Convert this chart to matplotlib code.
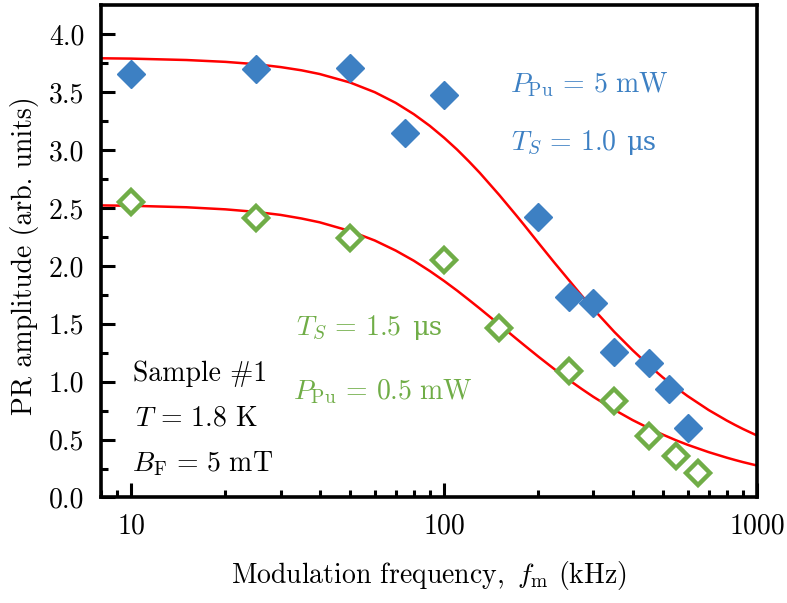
import numpy as np
import matplotlib
matplotlib.use('Agg')
import matplotlib.pyplot as plt
from matplotlib.ticker import FixedLocator, FuncFormatter, LogLocator, NullFormatter

# Fonts: Computer Modern look (cmr10 has no usable micro sign, see below)
plt.rcParams['font.family'] = ['cmr10', 'DejaVu Serif']
plt.rcParams['mathtext.fontset'] = 'cm'
plt.rcParams['axes.formatter.use_mathtext'] = True

# Measured points (modulation frequency in kHz, PR amplitude)
f_hi = [10, 25, 50, 75, 100, 200, 250, 300, 350, 450, 525, 600]
amp_hi = [3.66, 3.70, 3.71, 3.15, 3.48, 2.42, 1.73, 1.68, 1.26, 1.16, 0.94, 0.60]

f_lo = [10, 25, 50, 100, 150, 250, 350, 450, 550, 650]
amp_lo = [2.55, 2.415, 2.24, 2.05, 1.46, 1.09, 0.835, 0.53, 0.36, 0.215]

# Fit curves
f_fit = [8, 10, 15, 20, 25, 30, 35, 40, 50, 60, 70, 80, 90, 100, 110, 120, 130,
         150, 170, 180, 200, 225, 250, 275, 300, 350, 400, 450, 500, 550, 600,
         700, 800, 850, 900, 1000]
fit_hi = [3.794, 3.791, 3.779, 3.763, 3.743, 3.718, 3.690, 3.658, 3.585, 3.501,
          3.409, 3.311, 3.210, 3.107, 3.005, 2.903, 2.804, 2.613, 2.437, 2.355,
          2.200, 2.029, 1.880, 1.745, 1.627, 1.430, 1.273, 1.144, 1.037, 0.951,
          0.876, 0.756, 0.665, 0.627, 0.593, 0.535]
fit_lo = [2.523, 2.520, 2.507, 2.489, 2.467, 2.441, 2.410, 2.377, 2.302, 2.220,
          2.133, 2.045, 1.956, 1.870, 1.787, 1.707, 1.632, 1.494, 1.372, 1.317,
          1.217, 1.109, 1.017, 0.938, 0.869, 0.757, 0.669, 0.600, 0.543, 0.495,
          0.455, 0.392, 0.344, 0.324, 0.306, 0.276]

y_ticks = [0.0, 0.5, 1.0, 1.5, 2.0, 2.5, 3.0, 3.5, 4.0]
x_ticks = [10, 100, 1000]

blue = '#3d80c3'
green = '#70ad47'
red = '#ff0000'
fs = 20

fig = plt.figure(figsize=(7.87, 6.03), dpi=100)
ax = fig.add_axes([0.1283, 0.1750, 0.8336, 0.8159])

ax.plot(f_fit, fit_hi, color=red, lw=1.8, zorder=2)
ax.plot(f_fit, fit_lo, color=red, lw=1.8, zorder=2)
ax.plot(f_hi, amp_hi, ls='none', marker='D', ms=14, mfc=blue, mec=blue, mew=1, zorder=3)
ax.plot(f_lo, amp_lo, ls='none', marker='D', ms=12, mfc='white', mec=green, mew=3.2, zorder=3)

ax.set_xscale('log')
ax.set_xlim(8, 1000)
ax.set_ylim(0, 4.25)

ax.xaxis.set_major_locator(FixedLocator(x_ticks))
ax.xaxis.set_major_formatter(FuncFormatter(lambda v, p: f'{v:g}'))
ax.xaxis.set_minor_locator(LogLocator(base=10, subs=np.arange(2, 10)))
ax.xaxis.set_minor_formatter(NullFormatter())
ax.yaxis.set_major_locator(FixedLocator(y_ticks))
ax.yaxis.set_major_formatter(FuncFormatter(lambda v, p: f'{v:.1f}'))
ax.yaxis.set_minor_locator(FixedLocator(np.arange(0.25, 4.25, 0.5)))

for s in ax.spines.values():
    s.set_linewidth(2.6)
ax.tick_params(which='both', direction='in', top=False, right=False, width=2.2,
               labelsize=fs)
ax.tick_params(which='major', length=10)
ax.tick_params(which='minor', length=5)
ax.tick_params(axis='y', which='major', pad=12)
ax.tick_params(axis='x', which='major', pad=11)

ax.set_ylabel('PR amplitude (arb. units)', fontsize=fs)
ax.yaxis.set_label_coords(-0.094, 0.491)
ax.set_xlabel(r'Modulation frequency, $\,f_{\rm m}$ (kHz)', fontsize=fs, labelpad=14)


def ftext(x, y, s, color, **kw):
    fig.text(x / 787, 1 - y / 603, s, color=color, fontsize=kw.pop('size', fs),
             ha='left', va='baseline', **kw)


ftext(510, 92, r'$P_{\rm Pu} \,=\, 5\ {\rm mW}$', blue)
ftext(511, 150, r'$T_S \,=\, 1.0$', blue)
ftext(626, 150, 'μs', blue, size=18.5, family='DejaVu Serif')
ftext(296, 335, r'$T_S \,=\, 1.5$', green)
ftext(412, 335, 'μs', green, size=18.5, family='DejaVu Serif')
ftext(293, 399, r'$P_{\rm Pu} \,=\, 0.5\ {\rm mW}$', green)
ftext(133, 381, 'Sample #1', 'black')
ftext(135, 426, r'$T \,=\, 1.8$ K', 'black')
ftext(132, 471, r'$B_{\rm F} \,=\, 5\ {\rm mT}$', 'black')

fig.savefig('out.png', dpi=100)
